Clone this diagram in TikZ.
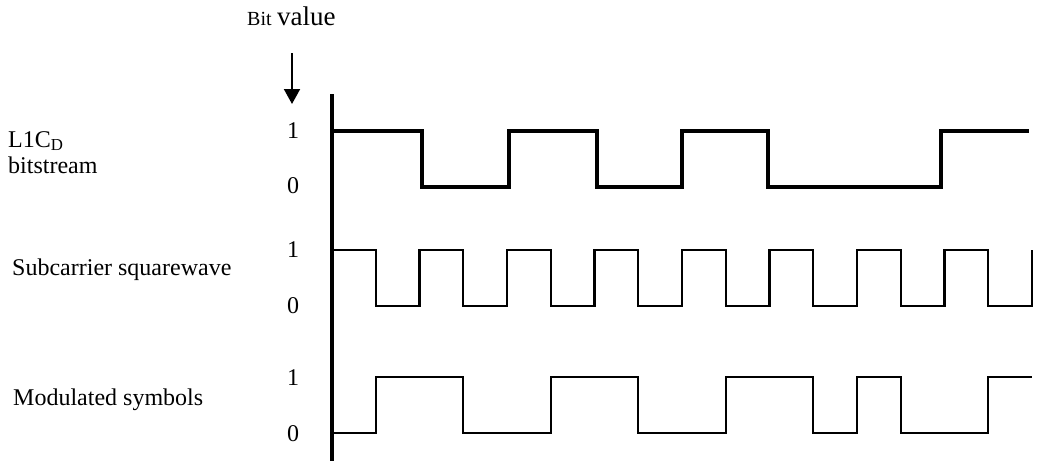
\documentclass[tikz,border=0pt]{standalone}
\usepackage{fontspec}
\setmainfont{Liberation Serif}
\usetikzlibrary{arrows.meta}
\begin{document}
\begin{tikzpicture}[x=1pt,y=-1pt,
  lbl/.style={anchor=base west,inner sep=0pt,font=\fontsize{24}{28}\selectfont},
  lvl/.style={anchor=center,inner sep=0pt,font=\fontsize{24}{28}\selectfont},
  bitwave/.style={line width=3.2pt,line join=miter},
  thinwave/.style={line width=2.2pt,line join=miter},
  axisline/.style={line width=4pt},
  pointer/.style={line width=2pt,-{Triangle[length=15pt,width=16pt]}}]
\useasboundingbox (0,0) rectangle (1037,466);
% heading
\node[anchor=base west,inner sep=0pt,font=\fontsize{20}{24}\selectfont] (bit) at (247,25) {Bit};
\node[anchor=base west,inner sep=0pt,font=\fontsize{27}{30}\selectfont] (val) at (277,25) {value};
\coordinate (arrS) at (292,53);
\coordinate (arrE) at (292,104);
\draw[pointer] (arrS) -- (arrE);
% axis
\coordinate (axtop) at (332,94);
\coordinate (axbot) at (332,461);
\draw[axisline] (axtop) -- (axbot);
% row labels
\node[lbl] (l1a) at (8,147) {L1C\textsubscript{D}};
\node[lbl] (l1b) at (8,173) {bitstream};
\node[lbl] (l2) at (12,275) {Subcarrier squarewave};
\node[lbl] (l3) at (13,405) {Modulated symbols};
% level labels
\node[lvl] (r1h) at (293,131) {1};
\node[lvl] (r1l) at (293,186) {0};
\node[lvl] (r2h) at (293,250) {1};
\node[lvl] (r2l) at (293,306) {0};
\node[lvl] (r3h) at (293,378) {1};
\node[lvl] (r3l) at (293,434) {0};
% L1CD bitstream 1 0 1 0 1 0 0 1
\draw[bitwave] (332,131) -| (422,187) -| (509,131) -| (597,187) -| (682,131)
  -| (768,187) -| (941,131) -- (1029,131);
% subcarrier
\draw[thinwave] (332,250) -| (375.75,306) -| (419.5,250) -| (463.25,306)
  -| (507,250) -| (550.75,306) -| (594.5,250) -| (638.25,306) -| (682,250)
  -| (725.75,306) -| (769.5,250) -| (813.25,306) -| (857,250) -| (900.75,306)
  -| (944.5,250) -| (988.25,306) -| (1032,250);
% modulated symbols
\draw[thinwave] (332,433) -| (375.75,377) -| (463.25,433) -| (550.75,377)
  -| (638.25,433) -| (725.75,377) -| (813.25,433) -| (857,377) -| (900.75,433)
  -| (988.25,377) -- (1032,377);
\end{tikzpicture}
\end{document}
